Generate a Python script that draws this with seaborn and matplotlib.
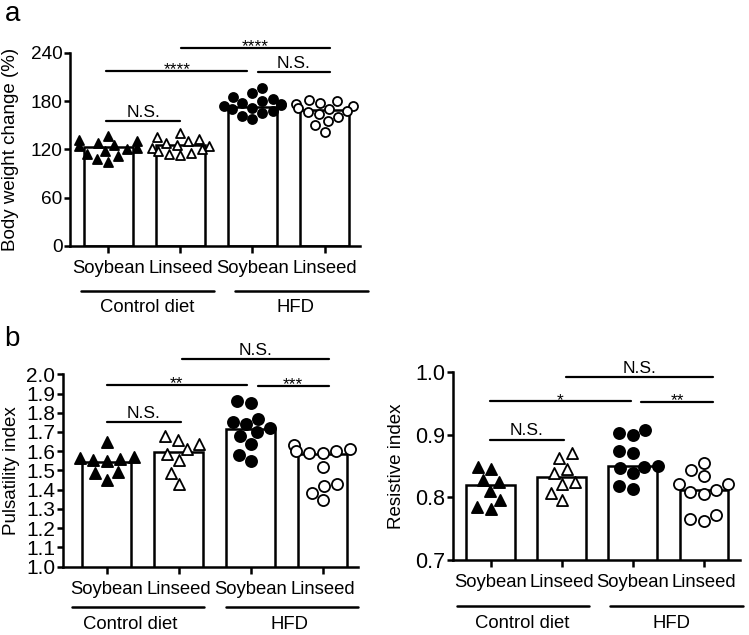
import numpy as np
import pandas as pd
import matplotlib.pyplot as plt
import matplotlib.transforms as mtransforms
import seaborn as sns

sns.set_theme(style="ticks")
plt.rcParams['font.family'] = ['Liberation Sans', 'DejaVu Sans']
plt.rcParams.update({'text.color': 'black', 'axes.labelcolor': 'black',
                     'xtick.color': 'black', 'ytick.color': 'black',
                     'axes.edgecolor': 'black'})

groups = ["Control Soybean", "Control Linseed", "HFD Soybean", "HFD Linseed"]
tick_labels = ["Soybean", "Linseed", "Soybean", "Linseed"]
diet_labels = ["Control diet", "HFD"]

# panel a - body weight change (%)
bw_ctrl_soy = [137, 132, 130, 128, 126, 124, 122, 120, 118, 115, 112, 108, 105]
bw_ctrl_lin = [140, 136, 133, 130, 128, 126, 124, 122, 120, 118, 116, 114, 113]
bw_hfd_soy = [197, 190, 185, 183, 180, 178, 176, 175, 174, 172, 170, 168, 165, 162, 158]
bw_hfd_lin = [182, 180, 178, 176, 174, 172, 170, 168, 166, 164, 160, 155, 150, 142]
bw_means = [123, 125.5, 173, 169]

# panel b left - pulsatility index
pi_ctrl_soy = [1.65, 1.57, 1.565, 1.56, 1.555, 1.55, 1.49, 1.485, 1.45]
pi_ctrl_lin = [1.68, 1.66, 1.635, 1.61, 1.585, 1.555, 1.485, 1.43]
pi_hfd_soy = [1.86, 1.85, 1.77, 1.75, 1.74, 1.72, 1.70, 1.68, 1.64, 1.58, 1.55]
pi_hfd_lin = [1.63, 1.61, 1.60, 1.60, 1.59, 1.59, 1.52, 1.43, 1.42, 1.385, 1.345]
pi_means = [1.545, 1.598, 1.716, 1.586]

# panel b right - resistive index
ri_ctrl_soy = [0.848, 0.845, 0.828, 0.825, 0.81, 0.796, 0.784, 0.781]
ri_ctrl_lin = [0.87, 0.862, 0.845, 0.839, 0.825, 0.822, 0.807, 0.795]
ri_hfd_soy = [0.907, 0.903, 0.899, 0.874, 0.871, 0.85, 0.849, 0.846, 0.839, 0.818, 0.813]
ri_hfd_lin = [0.855, 0.843, 0.834, 0.822, 0.821, 0.812, 0.809, 0.805, 0.772, 0.766, 0.763]
ri_means = [0.819, 0.832, 0.850, 0.8115]

# significance bars: (from, to, height, label)
bw_sig = [(-0.03, 1.0, 155, "N.S."), (-0.03, 1.93, 217.6, "****"),
          (2.08, 3.07, 216, "N.S."), (1.01, 3.07, 246.6, "****")]
pi_sig = [(0.0, 1.03, 1.75, "N.S."), (0.0, 1.94, 1.946, "**"),
          (2.1, 3.08, 1.94, "***"), (1.04, 3.08, 2.077, "N.S.")]
ri_sig = [(-0.01, 1.03, 0.892, "N.S."), (-0.01, 1.98, 0.953, "*"),
          (2.12, 3.13, 0.952, "**"), (1.06, 3.13, 0.991, "N.S.")]

markers = ["^", "^", "o", "o"]
fills = ["black", "white", "black", "white"]
LW = 1.8


def draw_panel(ax, points, means, sig, ylim, yticks, ytick_fmt, ylabel,
               ytick_size, xlim, ylab_x, diet_spans, diet_text_x, line_y, text_y,
               msize):
    sns.barplot(x=groups, y=means, order=groups, color="white", edgecolor="black",
                linewidth=LW, width=0.68, saturation=1, ax=ax, zorder=1)
    for g, vals, m, fc in zip(groups, points, markers, fills):
        sns.swarmplot(x=[g] * len(vals), y=vals, order=groups, marker=m, color=fc,
                      edgecolor="black", linewidth=1.3, size=msize, ax=ax, zorder=3,
                      warn_thresh=1)
    ax.set_xlim(*xlim)
    ax.set_ylim(*ylim)
    ax.set_yticks(yticks)
    ax.set_yticklabels([ytick_fmt.format(t) for t in yticks], fontsize=ytick_size)
    ax.set_xticks(range(4))
    ax.set_xticklabels(tick_labels, fontsize=13.3)
    ax.set_xlabel("")
    ax.set_ylabel(ylabel, fontsize=13.5)
    ax.yaxis.set_label_coords(ylab_x, 0.5)
    sns.despine(ax=ax)
    for s in ["left", "bottom"]:
        ax.spines[s].set_linewidth(LW)
    ax.tick_params(axis="y", width=LW, length=4, pad=1.5)
    ax.tick_params(axis="x", width=LW, length=5, pad=5)

    for x0, x1, y, lab in sig:
        ax.plot([x0, x1], [y, y], color="black", lw=1.6, clip_on=False)
        off = -2.5 if lab.startswith("*") else 3
        ax.annotate(lab, xy=((x0 + x1) / 2, y), xytext=(0, off),
                    textcoords="offset points", ha="center", va="baseline",
                    fontsize=12.5, annotation_clip=False)

    trans = mtransforms.blended_transform_factory(ax.transData, ax.transAxes)
    for (x0, x1), tx, lab in zip(diet_spans, diet_text_x, diet_labels):
        ax.plot([x0, x1], [line_y, line_y], color="black", lw=1.8,
                transform=trans, clip_on=False)
        ax.text(tx, text_y, lab, transform=trans, ha="center", va="center",
                fontsize=13.3)


fig = plt.figure(figsize=(7.49, 6.35), dpi=100)

ax_a = fig.add_axes([0.0935, 0.6126, 0.387, 0.304])
draw_panel(ax_a, [bw_ctrl_soy, bw_ctrl_lin, bw_hfd_soy, bw_hfd_lin], bw_means, bw_sig,
           (0, 240), [0, 60, 120, 180, 240], "{:.0f}", "Body weight change (%)", 13.7,
           (-0.53, 3.49), -0.175, [(-0.375, 1.46), (1.76, 3.6)], [0.54, 2.6],
           -0.233, -0.32, 6.5)

ax_b1 = fig.add_axes([0.0841, 0.1076, 0.394, 0.303])
draw_panel(ax_b1, [pi_ctrl_soy, pi_ctrl_lin, pi_hfd_soy, pi_hfd_lin], pi_means, pi_sig,
           (1.0, 2.0), np.round(np.arange(1.0, 2.01, 0.1), 1), "{:.1f}",
           "Pulsatility index", 15, (-0.61, 3.49), -0.146,
           [(-0.49, 1.35), (1.66, 3.49)], [0.32, 2.54], -0.208, -0.30, 8)

ax_b2 = fig.add_axes([0.6048, 0.118, 0.383, 0.2965])
draw_panel(ax_b2, [ri_ctrl_soy, ri_ctrl_lin, ri_hfd_soy, ri_hfd_lin], ri_means, ri_sig,
           (0.7, 1.0), [0.7, 0.8, 0.9, 1.0], "{:.1f}", "Resistive index", 15.5,
           (-0.53, 3.51), -0.167, [(-0.48, 1.39), (1.68, 3.55)], [0.44, 2.55],
           -0.244, -0.335, 8)

fig.text(0.006, 0.998, "a", fontsize=20, va="top", ha="left")
fig.text(0.006, 0.487, "b", fontsize=20, va="top", ha="left")

fig.savefig("out.png", dpi=100)
